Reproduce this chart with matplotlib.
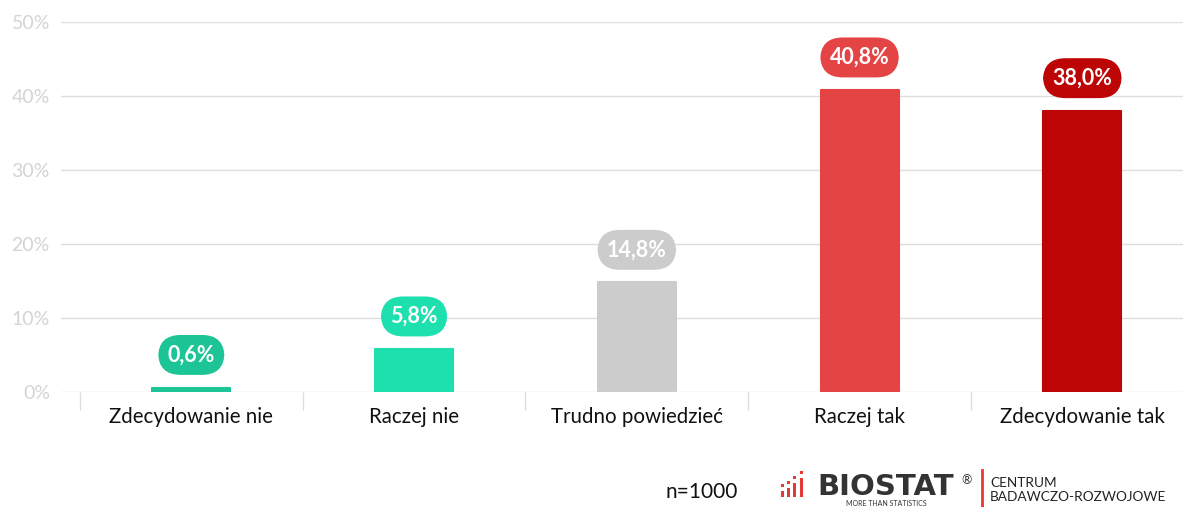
import matplotlib
matplotlib.use("Agg")
import matplotlib.pyplot as plt
from matplotlib.patches import Rectangle
from matplotlib.lines import Line2D
import numpy as np

plt.rcParams['font.family'] = ['Lato', 'DejaVu Sans']

categories = ['Zdecydowanie nie', 'Raczej nie', 'Trudno powiedzieć', 'Raczej tak', 'Zdecydowanie tak']
values = [0.6, 5.8, 14.8, 40.8, 38.0]
labels = ['0,6%', '5,8%', '14,8%', '40,8%', '38,0%']
colors = ['#1DC495', '#1DE0AE', '#CCCCCC', '#E54444', '#BD0505']
yticks = [0, 10, 20, 30, 40, 50]
ytick_labels = ['0%', '10%', '20%', '30%', '40%', '50%']

W, H = 1183, 507
fig = plt.figure(figsize=(W / 100, H / 100), dpi=100)
ax = fig.add_axes([61 / W, (H - 392) / H, 1 - 61 / W, (392 - 22) / H])

x = np.arange(len(categories))
ax.bar(x, values, width=0.35, color=colors, edgecolor=colors,
       linewidth=1.5, joinstyle='round', zorder=3)

# value pills above the bars
for xi, v, lab, c in zip(x, values, labels, colors):
    ax.annotate(lab, (xi, v), xytext=(0, 23.5), textcoords='offset points',
                ha='center', va='center', fontsize=15.5, fontweight='bold',
                color='white', zorder=4,
                bbox=dict(boxstyle='round,pad=0.44,rounding_size=1.05',
                          fc=c, ec='none'))

ax.set_xlim(-0.585, 4.452)
ax.set_ylim(0, 50)

ax.set_yticks(yticks)
ax.set_yticklabels(ytick_labels)
ax.tick_params(axis='y', length=0, pad=8, labelsize=14, labelcolor='#D4D4D4')
ax.yaxis.grid(True, color='#DDDDDD', linewidth=1)
ax.set_axisbelow(True)

ax.set_xticks(x)
ax.set_xticklabels(categories)
ax.tick_params(axis='x', which='major', length=0, pad=11, labelsize=14.8, labelcolor='#111111')
ax.set_xticks(x - 0.5, minor=True)
ax.tick_params(axis='x', which='minor', length=13, width=1, color='#DDDDDD')

for s in ax.spines.values():
    s.set_visible(False)

# footer
fig.text(702 / W, 1 - 492 / H, 'n=1000', ha='center', va='center', fontsize=15, color='#111111')

# little logo icon: bars with dots on top
icon = [(781, 6), (787, 9), (793, 14), (800, 19)]
for bx, bh in icon:
    fig.add_artist(Rectangle((bx / W, 1 - 497 / H), 3.2 / W, bh / H,
                             transform=fig.transFigure, color='#E53935', lw=0))
    fig.add_artist(Rectangle((bx / W, 1 - (497 - bh - 4) / H), 3.2 / W, 3 / H,
                             transform=fig.transFigure, color='#E53935', lw=0))
fig.text(886 / W, 1 - 487 / H, 'BIOSTAT', ha='center', va='center', fontsize=21,
         fontweight='bold', family='DejaVu Sans', color='#333333')
fig.text(967 / W, 1 - 480 / H, '®', ha='center', va='center', fontsize=9, color='#333333')
fig.text(886 / W, 1 - 504 / H, 'MORE THAN STATISTICS', ha='center', va='center',
         fontsize=5, color='#333333')
fig.add_artist(Line2D([982 / W, 982 / W], [1 - 470 / H, 0], transform=fig.transFigure,
                      color='#E53935', lw=2))
fig.text(990 / W, 1 - 483 / H, 'CENTRUM', ha='left', va='center', fontsize=9.8, color='#222222')
fig.text(990 / W, 1 - 497 / H, 'BADAWCZO-ROZWOJOWE', ha='left', va='center', fontsize=9.8, color='#222222')

fig.savefig('out.png', dpi=100)
